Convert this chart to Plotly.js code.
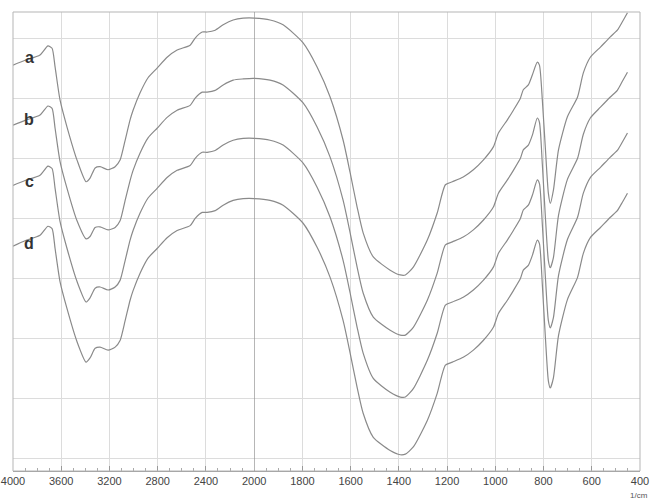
<!DOCTYPE html>
<html>
<head>
<meta charset="utf-8">
<script src="https://cdn.plot.ly/plotly-3.0.1.min.js"></script>
<style>html,body{margin:0;padding:0;background:#fff}#chart{width:651px;height:500px}</style>
</head>
<body>
<div id="chart"></div>
<script>
// Wavenumbers (1/cm), shared by all spectra
var wavenumbers = [4000,3900,3776,3710,3676,3651,3610,3552,3469,3394,
  3361,3319,3278,3211,3153,3112,3070,3029,3004,2946,
  2880,2805,2722,2639,2531,2489,2431,2390,2323,2257,
  2174,2091,2000,1934,1880,1797,1739,1685,1631,1602,
  1573,1548,1506,1436,1394,1373,1340,1282,1241,1207,
  1178,1133,1091,1050,1008,987,950,925,896,884,
  863,846,826,817,805,792,780,772,759,738,
  701,659,635,606,564,523,494,473,452];

var seriesA = [65.5,66.3,67.2,68.7,68.3,65.2,59.7,55.2,49.7,46.1,
  46.7,48.4,48.6,48.1,48.6,49.7,53.0,56.4,58.0,60.9,
  63.4,65.0,66.8,68.0,68.8,70.0,71.0,71.0,71.3,72.2,
  73.0,73.3,73.3,73.0,72.2,69.2,65.2,60.2,53.0,47.6,
  41.9,37.6,33.6,31.4,30.6,30.6,31.9,36.4,40.9,45.6,
  46.1,46.9,48.1,49.7,51.9,54.2,56.4,58.0,60.0,61.4,
  62.2,63.9,66.0,65.5,59.7,51.4,44.2,42.5,44.7,51.4,
  56.9,60.2,64.2,66.8,68.5,70.2,71.3,72.7,74.2];

var seriesB = [55.5,56.3,57.2,58.7,58.3,55.0,49.5,45.0,39.6,36.6,
  37.0,38.5,38.6,38.1,38.5,39.6,43.0,46.3,48.0,50.9,
  53.4,55.0,56.8,58.0,58.8,60.0,61.0,61.0,61.3,62.2,
  63.0,63.2,63.3,63.0,62.2,59.2,55.2,50.2,43.0,37.6,
  31.9,27.6,23.6,21.4,20.6,20.6,21.9,26.4,30.9,35.6,
  36.1,36.9,38.1,39.7,41.9,44.2,46.4,48.0,50.0,51.4,
  52.2,53.9,56.7,56.0,49.0,40.0,33.0,31.8,33.5,40.5,
  46.5,50.0,54.0,56.7,58.5,60.2,61.3,62.8,64.3];

var seriesC = [45.5,46.3,47.2,48.7,48.3,45.0,39.5,35.0,29.5,26.1,
  26.8,28.4,28.6,28.1,28.6,29.7,33.0,36.4,38.0,40.9,
  43.4,45.0,46.8,48.0,48.8,50.0,51.0,51.0,51.3,52.2,
  53.0,53.3,53.3,53.0,52.2,49.2,45.2,40.2,33.0,27.6,
  21.9,17.6,13.4,11.1,10.3,10.3,11.7,16.4,20.9,25.6,
  26.1,26.9,28.1,29.7,31.9,34.2,36.4,38.0,40.0,41.4,
  42.2,43.9,46.4,45.8,39.0,30.0,23.0,21.8,23.5,30.5,
  36.5,40.2,44.2,46.8,48.5,50.2,51.3,52.7,54.2];

var seriesD = [35.4,36.3,37.2,38.7,38.3,35.0,29.5,25.0,19.5,16.1,
  16.8,18.4,18.6,18.1,18.6,19.7,23.0,26.4,28.0,30.9,
  33.4,35.0,36.8,38.0,38.8,40.0,41.0,41.0,41.3,42.2,
  43.0,43.3,43.3,43.0,42.2,39.2,35.2,30.2,23.0,17.6,
  11.9,7.6,3.6,1.4,0.7,0.8,2.0,6.4,10.9,15.6,
  16.1,16.9,18.1,19.7,21.9,24.2,26.4,28.0,30.0,31.4,
  32.2,33.9,36.4,35.8,29.0,20.0,13.0,11.8,13.5,20.5,
  26.5,30.2,34.2,36.8,38.5,40.2,41.3,42.7,44.2];

var seriesNames = ['a','b','c','d'];
var seriesLabelY = [66.7,56.4,46.1,35.9];
var leftTicks = [4000,3600,3200,2800,2400];
var rightTicks = [2000,1800,1600,1400,1200,1000,800,600,400];

var allSeries = [seriesA, seriesB, seriesC, seriesD];
var lineStyle = {color:'#8a8a8a', width:1.2, shape:'spline', smoothing:0.6};
var traces = [];
allSeries.forEach(function(s, i){
  ['x','x2'].forEach(function(ax){
    traces.push({x:wavenumbers, y:s, xaxis:ax, yaxis:'y', type:'scatter', mode:'lines',
      line:lineStyle, name:seriesNames[i], showlegend:false, hoverinfo:'skip'});
  });
});

var split = 5/13;
var gridC = '#dcdcdc';
var tickFont = {family:'Liberation Sans, Arial, sans-serif', size:11, color:'#444'};
var annotations = seriesNames.map(function(n,i){
  return {x:3867, y:seriesLabelY[i], xref:'x', yref:'y', text:'<b>'+n+'</b>', showarrow:false,
    font:{family:'Liberation Sans, Arial, sans-serif', size:16, color:'#333'}};
});
annotations.push({x:1, y:0, xref:'paper', yref:'paper', xanchor:'right', yanchor:'top', yshift:-18, xshift:10,
  text:'1/cm', showarrow:false, font:{family:'Liberation Sans, Arial, sans-serif', size:8, color:'#555'}});

var layout = {
  width:651, height:500,
  margin:{l:13, r:11, t:12, b:29},
  paper_bgcolor:'#fff', plot_bgcolor:'#fff',
  showlegend:false,
  xaxis:{domain:[0,split], range:[4000,2000], tickvals:leftTicks, ticktext:leftTicks.map(String),
    showgrid:true, gridcolor:gridC, zeroline:false, showline:true, linecolor:'#999',
    ticks:'inside', ticklen:5, tickcolor:'#999', tickfont:tickFont,
    minor:{dtick:100, ticks:'inside', ticklen:3, tickcolor:'#aaa', showgrid:false}},
  xaxis2:{domain:[split,1], range:[2000,400], tickvals:rightTicks, ticktext:rightTicks.map(String),
    showgrid:true, gridcolor:gridC, zeroline:false, showline:true, linecolor:'#999', anchor:'y',
    ticks:'inside', ticklen:5, tickcolor:'#999', tickfont:tickFont,
    minor:{dtick:50, ticks:'inside', ticklen:3, tickcolor:'#aaa', showgrid:false}},
  yaxis:{range:[-2,74.33], dtick:10, tick0:0, showgrid:true, gridcolor:gridC, zeroline:false,
    showticklabels:false, ticks:'', showline:false},
  shapes:[
    {type:'rect', xref:'paper', yref:'paper', x0:0, x1:1, y0:0, y1:1, line:{color:'#b5b5b5', width:1}},
    {type:'line', xref:'x2', yref:'paper', x0:2000, x1:2000, y0:0, y1:1, line:{color:'#8c8c8c', width:1.2}}
  ],
  annotations:annotations
};

Plotly.newPlot('chart', traces, layout, {displayModeBar:false, staticPlot:true});
</script>
</body>
</html>
